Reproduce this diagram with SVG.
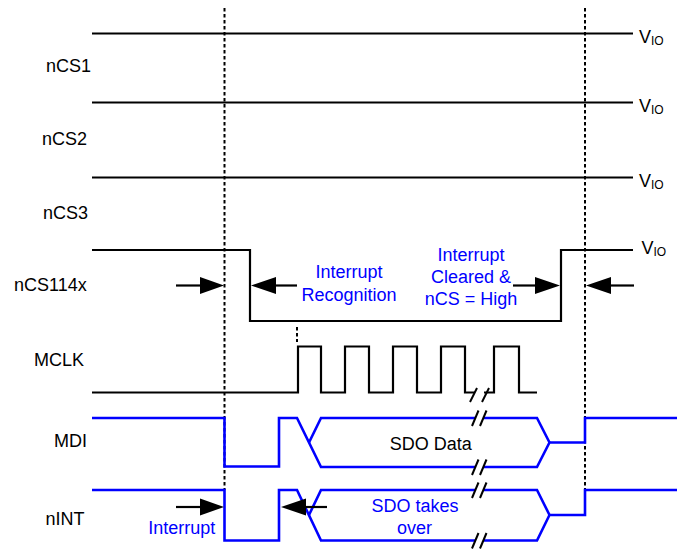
<svg xmlns="http://www.w3.org/2000/svg" width="677" height="552" viewBox="0 0 677 552">
<defs>
<style>
.lbl{font-family:"Liberation Sans",Arial,sans-serif;font-size:18px;fill:#000}
.ann{font-family:"Liberation Sans",Arial,sans-serif;font-size:18px;fill:#0000ff;text-anchor:middle}
.sub{font-size:12px}
.sig{fill:none;stroke:#000;stroke-width:2.2}
.bus{fill:none;stroke:#0000ff;stroke-width:2.6;stroke-linejoin:miter}
.dash{fill:none;stroke:#000;stroke-width:2;stroke-dasharray:3.5 2.5}
.gap{stroke:#fff;stroke-width:5}
.brk{stroke:#000;stroke-width:2}
.shaft{stroke:#000;stroke-width:2.2}
.head{fill:#000}
</style>
</defs>
<rect width="677" height="552" fill="#fff"/>

<g id="guides">
<line class="dash" x1="224.5" y1="8" x2="224.5" y2="490"/>
<line class="dash" x1="585" y1="8" x2="585" y2="490"/>
<line class="dash" x1="297" y1="327" x2="297" y2="342"/>
</g>

<g id="nCS1">
<text class="lbl" x="46" y="72">nCS1</text>
<line class="sig" x1="92" y1="33.5" x2="633" y2="33.5"/>
<text class="lbl" x="639" y="42.7">V<tspan class="sub" dy="2">IO</tspan></text>
</g>

<g id="nCS2">
<text class="lbl" x="42" y="145">nCS2</text>
<line class="sig" x1="92" y1="102.5" x2="633" y2="102.5"/>
<text class="lbl" x="639" y="111.7">V<tspan class="sub" dy="2">IO</tspan></text>
</g>

<g id="nCS3">
<text class="lbl" x="43" y="219">nCS3</text>
<line class="sig" x1="92" y1="177.5" x2="633" y2="177.5"/>
<text class="lbl" x="639" y="186.7">V<tspan class="sub" dy="2">IO</tspan></text>
</g>

<g id="nCS114x">
<text class="lbl" x="14" y="290.5">nCS114x</text>
<path class="sig" d="M92,250 H250 V321 H561 V250 H633"/>
<text class="lbl" x="641.5" y="254.3">V<tspan class="sub" dy="2">IO</tspan></text>
<text class="ann" x="349" y="278">Interrupt</text>
<text class="ann" x="349" y="301">Recognition</text>
<text class="ann" x="471" y="260.7">Interrupt</text>
<text class="ann" x="471" y="283">Cleared &amp;</text>
<text class="ann" x="471" y="305">nCS = High</text>
</g>

<g id="MCLK">
<text class="lbl" x="34" y="366">MCLK</text>
<path class="sig" d="M92,392.5 H298 V346.5 H321 V392.5 H345 V346.5 H369 V392.5 H393 V346.5 H417 V392.5 H441 V346.5 H465 V392.5 H494 V346.5 H519 V392.5 H537"/>
<line class="gap" x1="475" y1="392.5" x2="484" y2="392.5"/>
<line class="brk" x1="470" y1="402" x2="477" y2="388"/>
<line class="brk" x1="482" y1="402" x2="489" y2="388"/>
</g>

<g id="MDI">
<text class="lbl" x="54" y="447">MDI</text>
<path class="bus" d="M92,418 H224.5 V466.5 H279 V418 H297 L321,467 H537 L549.5,442.5 H585 V418 H677"/>
<path class="bus" d="M309,442.5 L321,418 H537 L549.5,442.5"/>
<text class="lbl" x="430.7" y="450" text-anchor="middle">SDO Data</text>
<line class="gap" x1="475.5" y1="418" x2="483" y2="418"/>
<line class="gap" x1="475.5" y1="467" x2="483" y2="467"/>
<line class="brk" x1="472" y1="426" x2="478.5" y2="410.5"/>
<line class="brk" x1="480" y1="426" x2="486.5" y2="410.5"/>
<line class="brk" x1="472" y1="475" x2="478.5" y2="459.5"/>
<line class="brk" x1="480" y1="475" x2="486.5" y2="459.5"/>
</g>

<g id="nINT">
<text class="lbl" x="45.5" y="525">nINT</text>
<path class="bus" d="M92,490 H224.5 V540.5 H279 V490 H297 L321,540.5 H537 L549.5,515 H585 V490 H677"/>
<path class="bus" d="M309,515 L321,490 H537 L549.5,515"/>
<text class="ann" x="415" y="512">SDO takes</text>
<text class="ann" x="414.5" y="534">over</text>
<text class="ann" x="181.8" y="534">Interrupt</text>
<line class="gap" x1="475.5" y1="490" x2="483" y2="490"/>
<line class="gap" x1="475.5" y1="540.5" x2="483" y2="540.5"/>
<line class="brk" x1="472" y1="498" x2="478.5" y2="482.5"/>
<line class="brk" x1="480" y1="498" x2="486.5" y2="482.5"/>
<line class="brk" x1="472" y1="548.5" x2="478.5" y2="533"/>
<line class="brk" x1="480" y1="548.5" x2="486.5" y2="533"/>
</g>

<g id="connectors">
<line class="shaft" x1="176" y1="285.5" x2="202" y2="285.5"/>
<polygon class="head" points="200,277 224,285.5 200,294"/>
<line class="shaft" x1="274" y1="285.5" x2="297" y2="285.5"/>
<polygon class="head" points="251,285.5 276,277 276,294"/>
<line class="shaft" x1="513" y1="285.5" x2="537" y2="285.5"/>
<polygon class="head" points="535,277 560,285.5 535,294"/>
<line class="shaft" x1="609" y1="285.5" x2="634" y2="285.5"/>
<polygon class="head" points="586,285.5 611,277 611,294"/>
<line class="shaft" x1="176" y1="507" x2="202" y2="507"/>
<polygon class="head" points="200,498.5 224,507 200,515.5"/>
<line class="shaft" x1="304" y1="507" x2="327" y2="507"/>
<polygon class="head" points="281,507 306,498.5 306,515.5"/>
</g>
</svg>
